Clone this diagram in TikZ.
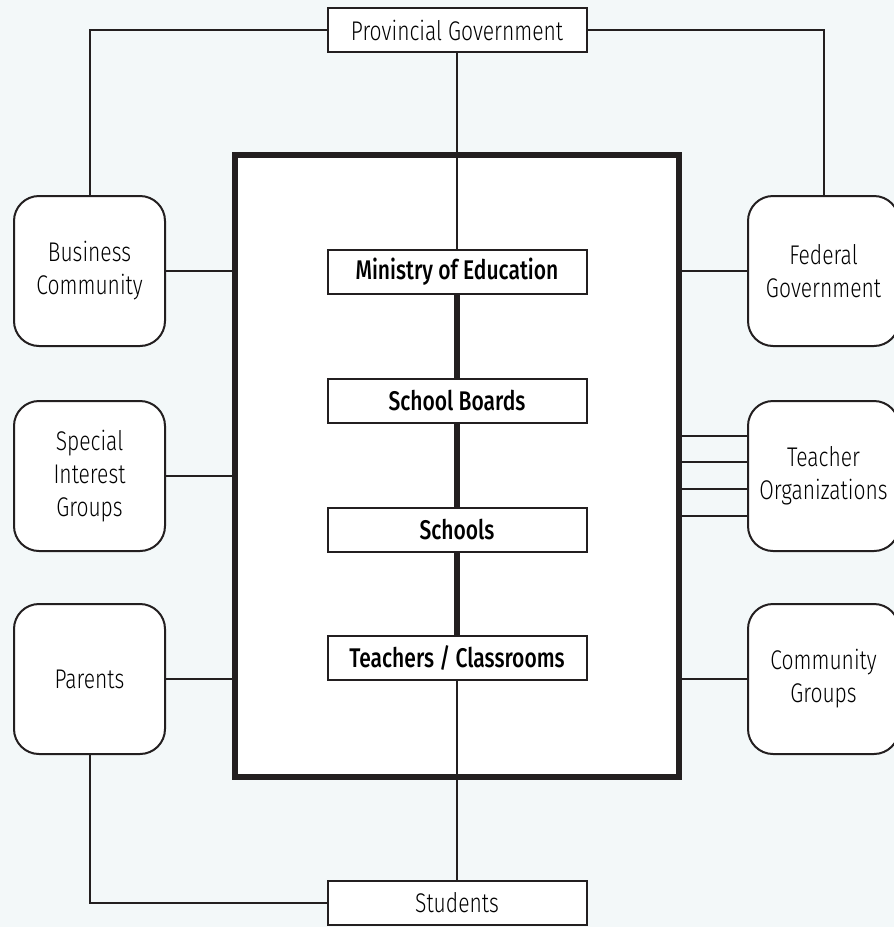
\documentclass[tikz,border=0pt]{standalone}
\usepackage{fontspec}
\setmainfont{Fira Sans}[UprightFont=* Light, BoldFont=* Medium, FakeStretch=0.78]
\usetikzlibrary{positioning}
\definecolor{bgblue}{HTML}{F3F8F9}
\definecolor{ink}{HTML}{231F20}
\tikzset{
  sidebox/.style={draw=ink, fill=white, line width=2pt, rounded corners=25pt,
    minimum width=151pt, minimum height=150pt, align=center,
    font=\fontsize{27}{33}\selectfont},
  tierbox/.style={draw=ink, fill=white, line width=2pt, inner sep=0pt,
    minimum width=259pt, minimum height=44pt, font=\fontsize{27}{33}\selectfont},
  link/.style={draw=ink, line width=2pt},
  spine/.style={draw=ink, line width=6pt}
}
\begin{document}
\begin{tikzpicture}[x=1pt,y=-1pt]
\useasboundingbox (0,0) rectangle (894,927);
\clip (0,0) rectangle (894,927);
\fill[bgblue] (0,0) rectangle (894,927);
% central frame
\node[draw=ink, fill=white, line width=6pt, minimum width=444pt, minimum height=622pt] (frame) at (457,466) {};
% outer bodies
\node[tierbox] (prov) at (457,30) {Provincial Government};
\node[tierbox] (stud) at (457,903) {Students};
\node[sidebox] (bus) at (89.5,271) {Business\\Community};
\node[sidebox] (sig) at (89.5,476) {Special\\Interest\\Groups};
\node[sidebox] (par) at (89.5,679) {Parents};
\node[sidebox] (fed) at (823.5,271) {Federal\\Government};
\node[sidebox] (torg) at (823.5,476) {Teacher\\Organizations};
\node[sidebox] (cgr) at (823.5,679) {Community\\Groups};
% system tiers
\node[tierbox] (min) at (457,272) {\bfseries Ministry of Education};
\node[tierbox] (brd) at (457,401) {\bfseries School Boards};
\node[tierbox] (sch) at (457,530) {\bfseries Schools};
\node[tierbox] (tch) at (457,658) {\bfseries Teachers / Classrooms};
\draw[spine] (min.south) -- (brd.north);
\draw[spine] (brd.south) -- (sch.north);
\draw[spine] (sch.south) -- (tch.north);
\draw[link] (prov.south) -- (min.north);
\draw[link] (tch.south) -- (stud.north);
\draw[link] (prov.west) -| (bus.north);
\draw[link] (prov.east) -| (fed.north);
\draw[link] (par.south) |- (stud.west);
\draw[link] (bus.east) -- (bus.east -| frame.west);
\draw[link] (sig.east) -- (sig.east -| frame.west);
\draw[link] (par.east) -- (par.east -| frame.west);
\draw[link] (fed.west) -- (fed.west -| frame.east);
\draw[link] (cgr.west) -- (cgr.west -| frame.east);
\foreach \y in {436,462,489,516}
  \draw[link] (frame.east |- 0,\y) -- (torg.west |- 0,\y);
\end{tikzpicture}
\end{document}
